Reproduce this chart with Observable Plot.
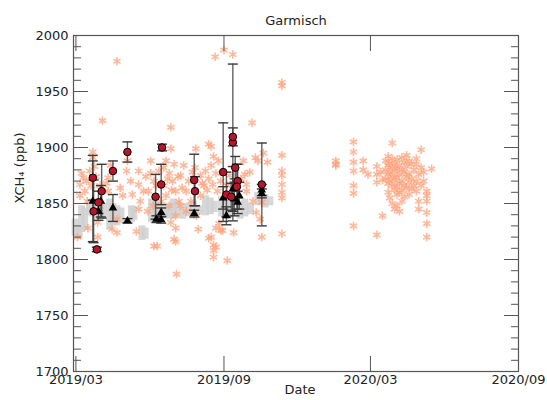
<!DOCTYPE html>
<html><head><meta charset="utf-8">
<script src="https://cdn.jsdelivr.net/npm/d3@7"></script>
<script src="https://cdn.jsdelivr.net/npm/@observablehq/plot@0.6"></script>
<style>body{margin:0;background:#fff;}</style>
</head><body><div id="chart"></div>
<script>
// ---- data ----
const title = "Garmisch";
const yLabel = "XCH\u2084 (ppb)";
const xLabel = "Date";
const xTickDates = ["2019-03-01", "2019-09-01", "2020-03-01", "2020-09-01"];
const xTickLabels = ["2019/03", "2019/09", "2020/03", "2020/09"];
const yTicks = [1700, 1750, 1800, 1850, 1900, 1950, 2000];
const yTickLabels = ["1700", "1750", "1800", "1850", "1900", "1950", "2000"];
const yMinorTicks = [1700,1710,1720,1730,1740,1750,1760,1770,1780,1790,1800,1810,1820,1830,1840,1850,1860,1870,1880,1890,1900,1910,1920,1930,1940,1950,1960,1970,1980,1990,2000];

// grey band (daily spread)
const grayDays = ["2019-02-28","2019-03-05","2019-03-08","2019-03-12","2019-03-18","2019-03-22","2019-03-27","2019-04-01","2019-04-04","2019-04-12","2019-04-16","2019-04-21","2019-04-26","2019-05-09","2019-05-12","2019-05-22","2019-05-26","2019-06-03","2019-06-08","2019-06-13","2019-06-20","2019-06-25","2019-06-30","2019-07-05","2019-07-12","2019-07-19","2019-07-25","2019-08-01","2019-08-09","2019-08-15","2019-08-20","2019-08-29","2019-09-03","2019-09-09","2019-09-21","2019-09-27","2019-10-04","2019-10-13","2019-10-22","2019-10-28"];
const grayLow  = [1821,1818,1824,1826,1839,1838,1836,1836,1838,1826,1830,1830,1832,1833,1835,1817,1818,1833,1834,1836,1838,1836,1836,1838,1836,1838,1836,1840,1839,1840,1842,1838,1836,1838,1836,1838,1840,1848,1846,1848];
const grayHigh = [1836,1830,1848,1846,1852,1850,1854,1852,1850,1854,1850,1848,1846,1848,1847,1830,1828,1854,1852,1850,1848,1850,1854,1852,1850,1850,1852,1848,1857,1855,1852,1856,1854,1852,1852,1854,1850,1860,1858,1856];

// salmon stars, grouped by day
const starDays = ["2019-03-03","2019-03-06","2019-03-08","2019-03-10","2019-03-12","2019-03-14","2019-03-15","2019-03-16","2019-03-18","2019-03-20","2019-03-22","2019-03-24","2019-03-26","2019-03-28","2019-03-31","2019-04-03","2019-04-08","2019-04-10","2019-04-13","2019-04-15","2019-04-21","2019-04-25","2019-04-28","2019-05-03","2019-05-04","2019-05-08","2019-05-10","2019-05-15","2019-05-18","2019-05-20","2019-05-24","2019-05-27","2019-05-29","2019-05-30","2019-06-02","2019-06-05","2019-06-06","2019-06-09","2019-06-10","2019-06-12","2019-06-15","2019-06-18","2019-06-21","2019-06-23","2019-06-25","2019-06-27","2019-06-28","2019-06-29","2019-07-01","2019-07-03","2019-07-04","2019-07-06","2019-07-07","2019-07-09","2019-07-11","2019-07-13","2019-07-16","2019-07-19","2019-07-22","2019-07-24","2019-07-27","2019-07-28","2019-07-29","2019-07-31","2019-08-03","2019-08-05","2019-08-07","2019-08-09","2019-08-11","2019-08-13","2019-08-16","2019-08-18","2019-08-19","2019-08-21","2019-08-22","2019-08-24","2019-08-25","2019-08-26","2019-08-28","2019-08-30","2019-09-01","2019-09-05","2019-09-08","2019-09-12","2019-09-13","2019-09-22","2019-09-25","2019-09-27","2019-09-29","2019-10-03","2019-10-06","2019-10-07","2019-10-10","2019-10-11","2019-10-13","2019-10-16","2019-10-18","2019-10-20","2019-10-25","2019-11-12","2020-01-18","2020-02-09","2020-02-21","2020-02-27","2020-03-09","2020-03-14","2020-03-16","2020-03-20","2020-03-23","2020-03-25","2020-03-28","2020-03-31","2020-04-03","2020-04-06","2020-04-09","2020-04-12","2020-04-15","2020-04-18","2020-04-21","2020-04-24","2020-04-27","2020-04-30","2020-05-03","2020-05-06","2020-05-10","2020-05-16"];
const starVals = [[1820],[1867,1857],[1877],[1873],[1861],[1870],[1852],[1828],[1879],[1866],[1896,1891],[1883],[1874],[1833,1820],[1866],[1924],[1868],[1873,1861],[1884],[1827],[1977,1836,1824],[1864],[1857],[1879],[1888],[1870],[1858],[1825],[1879,1867,1845],[1852],[1861],[1874],[1843],[1861],[1888,1877],[1848],[1870,1812],[1866],[1812],[1879,1839],[1852],[1866,1882],[1888,1857],[1872],[1877,1848],[1918,1899,1833],[1862],[1870],[1818,1885],[1861,1839,1828,1816],[1787],[1874],[1852],[1875,1848],[1864],[1884],[1861,1843],[1870],[1852],[1878],[1882],[1899],[1839],[1827],[1857,1875],[1868],[1866],[1879],[1862],[1903,1872,1819],[1884,1901,1820],[1867],[1892,1813,1802,1808],[1981],[1877,1828,1811],[1861],[1888],[1832],[1870,1826],[1826],[1987],[1866,1799],[1875],[1983],[1824],[1872],[1888],[1876],[1867,1861],[1878],[1922],[1852],[1891],[1842],[1888],[1836],[1851,1820],[1895],[1887],[1958,1955,1893,1879,1875,1867,1860,1855,1823],[1888,1885,1884],[1905,1896,1887,1879,1866,1859,1830],[1888,1880],[1876],[1883,1876,1869,1822],[1878],[1871,1839],[1888,1880,1872],[1892,1884,1876,1868,1860],[1886,1878,1870,1855],[1904,1890,1882,1874,1866,1850],[1885,1879,1871,1862,1845],[1889,1881,1873,1865,1858,1848],[1884,1876,1868,1860,1843],[1891,1880,1870,1862,1852],[1887,1878,1866,1856],[1893,1883,1874,1864],[1888,1876,1869,1858],[1885,1872,1863],[1880,1866],[1890,1885,1870,1861],[1876,1852,1845],[1898,1882,1866],[1878,1870],[1861,1857,1852,1842,1832,1820],[1881]];

// red circles with error bars
const circleDays = ["2019-03-22","2019-03-23","2019-03-27","2019-03-29","2019-04-02","2019-04-16","2019-05-04","2019-06-08","2019-06-15","2019-06-16","2019-07-26","2019-07-27","2019-08-31","2019-09-04","2019-09-12","2019-09-12","2019-09-10","2019-09-15","2019-09-18","2019-09-17","2019-10-18"];
const circleValues = [1873,1843,1809,1851,1861,1879,1896,1856,1867,1900,1871,1861,1878,1858,1904.5,1909.5,1856,1882,1870,1865,1867];
const circleErrors = [20,28,2,10,24,9,9,20,18,3,23,13,44,20,70,8,12,10,15,20,37];

// black triangles with error bars
const triDays = ["2019-03-22","2019-04-01","2019-03-29","2019-04-16","2019-05-04","2019-06-09","2019-06-15","2019-06-15","2019-07-26","2019-08-31","2019-09-04","2019-09-12","2019-09-14","2019-09-18","2019-09-20","2019-10-18","2019-10-18"];
const triValues = [1852,1852,1843,1846,1834.5,1836,1842,1835.5,1841,1855,1839,1863,1854,1851,1857,1862,1859];
const triErrors = [36,14,8,12,2,3,4,3,3,10,8,20,15,10,12,5,4];

// ---- build tables ----
const D = s => new Date(s);
const gray = grayDays.map((d, i) => ({date: D(d), lo: grayLow[i], hi: grayHigh[i]}));
const stars = starDays.flatMap((d, i) => starVals[i].map(v => ({date: D(d), v})));
const circles = circleDays.map((d, i) => ({date: D(d), v: circleValues[i], e: circleErrors[i]}));
const tris = triDays.map((d, i) => ({date: D(d), v: triValues[i], e: triErrors[i]}));
const xTicks = xTickDates.map(D);
const xLab = new Map(xTickDates.map((d, i) => [D(d).getTime(), xTickLabels[i]]));
const yLab = new Map(yTicks.map((d, i) => [d, yTickLabels[i]]));

const cap = {draw(ctx, size) { const w = Math.sqrt(size / Math.PI); ctx.moveTo(-w, 0); ctx.lineTo(w, 0); }};
const barStroke = "#3a3a3a";
const axisStroke = "#555";

function errorMarks(data) {
  return [
    Plot.ruleX(data, {x: "date", y1: d => d.v - d.e, y2: d => d.v + d.e, stroke: barStroke, strokeWidth: 1.4, strokeOpacity: 0.8}),
    Plot.dot(data, {x: "date", y: d => d.v - d.e, symbol: cap, r: 5, stroke: barStroke, strokeWidth: 1.4, fill: "none"}),
    Plot.dot(data, {x: "date", y: d => d.v + d.e, symbol: cap, r: 5, stroke: barStroke, strokeWidth: 1.4, fill: "none"})
  ];
}

const chart = Plot.plot({
  width: 547, height: 400,
  marginLeft: 73, marginRight: 29, marginTop: 35, marginBottom: 29,
  style: {fontFamily: "DejaVu Sans", fontSize: "13px", color: "#222", background: "#fff"},
  x: {type: "utc", domain: [D("2019-02-26"), D("2020-09-01")], label: null},
  y: {domain: [1700, 2000], label: null},
  marks: [
    Plot.ruleX(gray, {x: "date", y1: "lo", y2: "hi", stroke: "#d0d0d0", strokeWidth: 7, strokeOpacity: 0.85}),
    Plot.dot(stars, {x: "date", y: "v", symbol: "asterisk", r: 4, stroke: "#ffa07a", strokeWidth: 1.6, strokeOpacity: 0.75}),
    ...errorMarks(tris),
    ...errorMarks(circles),
    Plot.dot(tris, {x: "date", y: "v", symbol: "triangle", r: 3.2, fill: "black"}),
    Plot.dot(circles, {x: "date", y: "v", r: 3.8, fill: "#b8142c", stroke: "black", strokeWidth: 1}),
    Plot.frame({stroke: axisStroke, strokeWidth: 1.2}),
    // inward ticks
    Plot.axisY(yTicks, {anchor: "left", tickSize: -15, fill: "none", stroke: axisStroke, label: null}),
    Plot.axisY(yTicks, {anchor: "right", tickSize: -15, fill: "none", stroke: axisStroke, label: null}),
    Plot.axisY(yMinorTicks, {anchor: "left", tickSize: -8, fill: "none", stroke: axisStroke, label: null}),
    Plot.axisY(yMinorTicks, {anchor: "right", tickSize: -8, fill: "none", stroke: axisStroke, label: null}),
    Plot.axisX(xTicks, {anchor: "bottom", tickSize: -15, fill: "none", stroke: axisStroke, label: null}),
    Plot.axisX(xTicks, {anchor: "top", tickSize: -15, fill: "none", stroke: axisStroke, label: null}),
    // tick labels
    Plot.axisY(yTicks, {anchor: "left", tickSize: 0, tickPadding: 5, tickFormat: d => yLab.get(d), fill: "#222", label: null}),
    Plot.axisX(xTicks, {anchor: "bottom", tickSize: 0, tickPadding: 3, tickFormat: d => xLab.get(d.getTime()), fill: "#222", label: null}),
    // titles
    Plot.text([title], {text: d => d, frameAnchor: "top", dy: -20, fill: "#222"}),
    Plot.text([yLabel], {text: d => d, frameAnchor: "left", dx: -54, rotate: -90, fill: "#222"}),
    Plot.text([xLabel], {text: d => d, frameAnchor: "bottom", dy: 22, dx: 4, fill: "#222"})
  ]
});
document.getElementById("chart").appendChild(chart);
</script></body></html>
